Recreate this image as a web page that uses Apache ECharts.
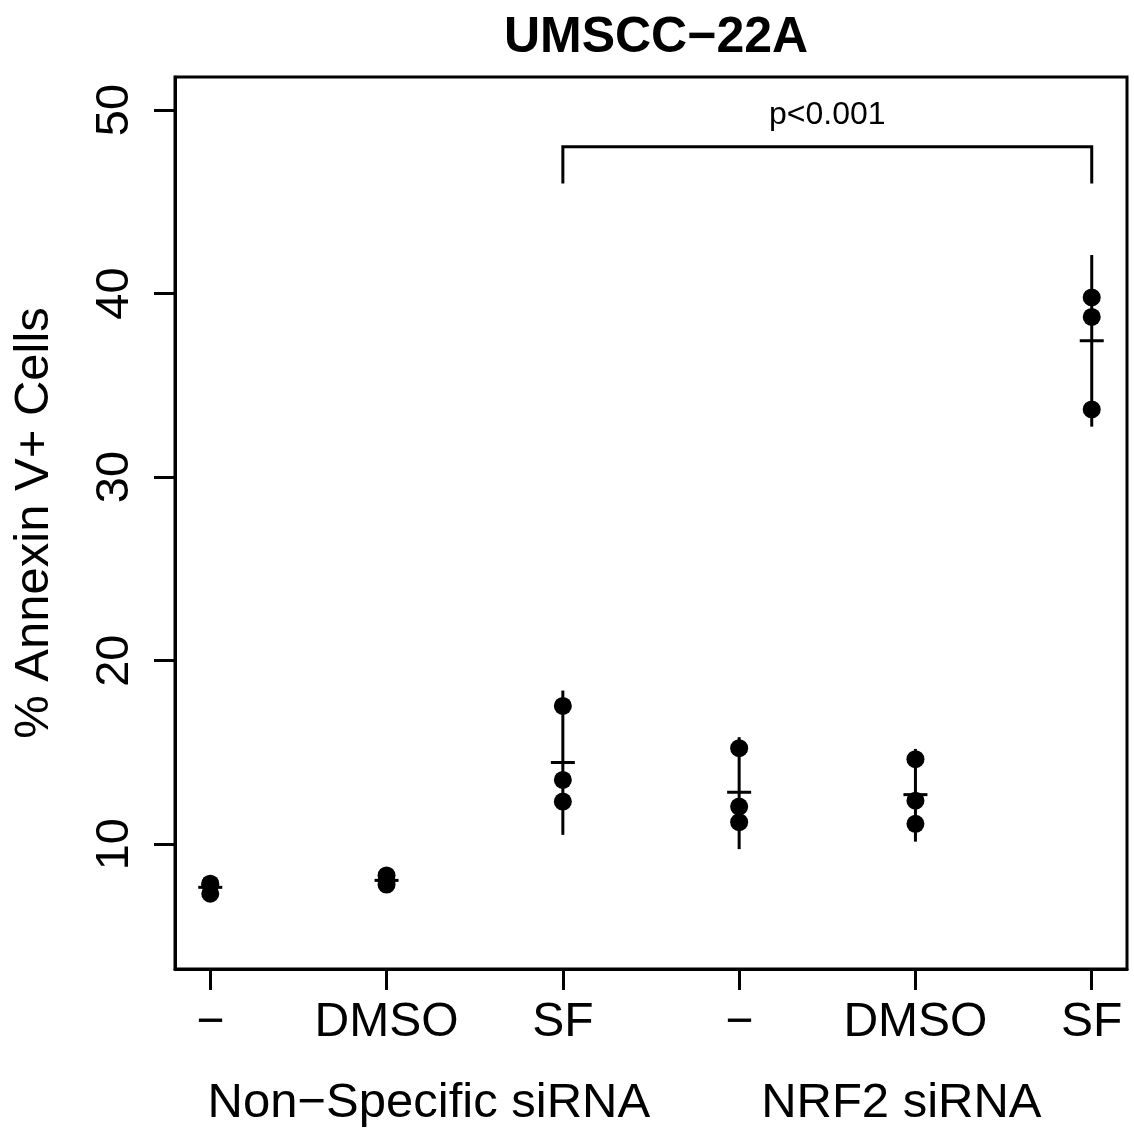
<!DOCTYPE html>
<html>
<head>
<meta charset="utf-8">
<script src="https://cdn.jsdelivr.net/npm/echarts@6/dist/echarts.min.js"></script>
<style>
html,body{margin:0;padding:0;background:#fff;}
#chart{width:1134px;height:1131px;}
</style>
</head>
<body>
<div id="chart"></div>
<script>
// ---- data ----
const positions = [1, 2, 3, 4, 5, 6];
const tickLabels = ['\u2212', 'DMSO', 'SF', '\u2212', 'DMSO', 'SF'];
const yTicks = [10, 20, 30, 40, 50];
const groupLabelPos = [2.24, 4.92];
const groupLabels = ['Non\u2212Specific siRNA', 'NRF2 siRNA'];
// replicate values per condition
const rep1 = [7.85, 8.30, 17.53, 15.23, 14.63, 39.79];
const rep2 = [7.80, 8.00, 13.50, 12.05, 12.37, 38.73];
const rep3 = [7.30, 7.80, 12.32, 11.20, 11.11, 33.69];
const means = [7.65, 8.03, 14.45, 12.83, 12.70, 37.43];
const errLow = [7.40, 7.80, 10.51, 9.73, 10.14, 32.75];
const errHigh = [7.90, 8.25, 18.37, 15.83, 15.19, 42.10];
// significance bracket: from, to, top, bottom
const bracket = [3, 6, 48, 46];
const pText = 'p<0.001';
const pTextPos = [4.5, 49.7];

const FONT = '"Liberation Sans", Arial, Helvetica, sans-serif';

const pointData = [];
positions.forEach((p, i) => {
  pointData.push([p, rep1[i]], [p, rep2[i]], [p, rep3[i]]);
});
const errData = positions.map((p, i) => [p, means[i], errLow[i], errHigh[i]]);

const chart = echarts.init(document.getElementById('chart'));
chart.setOption({
  animation: false,
  backgroundColor: '#fff',
  title: {
    text: 'UMSCC\u221222A',
    left: 651, textAlign: 'center', top: 8,
    textStyle: {fontFamily: FONT, fontWeight: 'bold', fontSize: 50, color: '#000'}
  },
  grid: {
    left: 175, right: 7, top: 77, bottom: 162,
    show: true, borderColor: '#000', borderWidth: 3, backgroundColor: 'transparent'
  },
  xAxis: [{
    type: 'value', min: 0.8, max: 6.2,
    splitLine: {show: false},
    axisLine: {show: true, lineStyle: {color: '#000', width: 3}},
    axisTick: {show: true, length: 21, lineStyle: {color: '#000', width: 3}, customValues: positions},
    axisLabel: {
      customValues: positions, margin: 30,
      fontFamily: FONT, fontSize: 48, color: '#000',
      formatter: v => tickLabels[positions.indexOf(Math.round(v))] || ''
    }
  }, {
    type: 'value', min: 0.8, max: 6.2, position: 'bottom', offset: 80,
    splitLine: {show: false}, axisLine: {show: false}, axisTick: {show: false},
    axisLabel: {
      customValues: groupLabelPos, margin: 30,
      fontFamily: FONT, fontSize: 49, color: '#000',
      formatter: v => {
        const i = groupLabelPos.findIndex(g => Math.abs(g - v) < 1e-6);
        return i >= 0 ? groupLabels[i] : '';
      }
    }
  }],
  yAxis: {
    type: 'value', min: 3.2, max: 51.8,
    splitLine: {show: false},
    axisLine: {show: true, lineStyle: {color: '#000', width: 3}},
    axisTick: {show: true, length: 21, lineStyle: {color: '#000', width: 3}, customValues: yTicks},
    axisLabel: {
      customValues: yTicks, rotate: 90, margin: 36,
      fontFamily: FONT, fontSize: 47, color: '#000'
    },
    name: '% Annexin V+ Cells', nameLocation: 'middle', nameRotate: 90, nameGap: 116,
    nameTextStyle: {fontFamily: FONT, fontSize: 49, color: '#000'}
  },
  series: [{
    type: 'custom',
    xAxisIndex: 0,
    data: errData,
    encode: {x: 0, y: 1},
    renderItem: (params, api) => {
      const x = api.value(0);
      const m = api.coord([x, api.value(1)]);
      const lo = api.coord([x, api.value(2)]);
      const hi = api.coord([x, api.value(3)]);
      return {type: 'group', children: [
        {type: 'line', shape: {x1: lo[0], y1: lo[1], x2: hi[0], y2: hi[1]}, style: {stroke: '#000', lineWidth: 3}},
        {type: 'line', shape: {x1: m[0] - 12, y1: m[1], x2: m[0] + 12, y2: m[1]}, style: {stroke: '#000', lineWidth: 3}}
      ]};
    },
    z: 3
  }, {
    type: 'scatter',
    xAxisIndex: 0,
    data: pointData,
    symbol: 'circle', symbolSize: 18,
    itemStyle: {color: '#000', opacity: 1},
    emphasis: {disabled: true},
    z: 2
  }, {
    type: 'custom',
    xAxisIndex: 0,
    data: [bracket],
    encode: {x: [0, 1], y: [2, 3]},
    renderItem: (params, api) => {
      const a = api.coord([api.value(0), api.value(3)]);
      const b = api.coord([api.value(0), api.value(2)]);
      const c = api.coord([api.value(1), api.value(2)]);
      const d = api.coord([api.value(1), api.value(3)]);
      return {type: 'polyline', shape: {points: [a, b, c, d]}, style: {stroke: '#000', lineWidth: 3, fill: null}};
    }
  }, {
    type: 'custom',
    xAxisIndex: 0,
    data: [pTextPos],
    encode: {x: 0, y: 1},
    renderItem: (params, api) => {
      const p = api.coord([api.value(0), api.value(1)]);
      return {type: 'text', x: p[0], y: p[1], style: {text: pText, fontFamily: FONT, fontSize: 32, fill: '#000', align: 'center', verticalAlign: 'middle'}};
    }
  }]
});
</script>
</body>
</html>
